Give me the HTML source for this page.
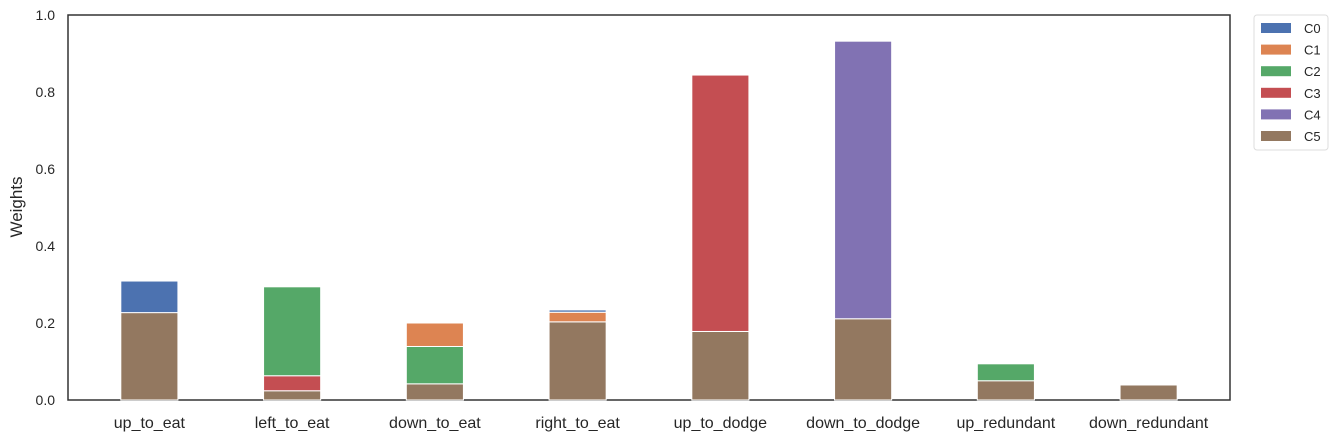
<!DOCTYPE html>
<html><head><meta charset="utf-8"><style>
body{margin:0;background:#fff;}
svg text{font-family:"Liberation Sans","DejaVu Sans",sans-serif;fill:#262626;}
</style></head><body>
<svg id="chart" width="1338" height="442" xmlns="http://www.w3.org/2000/svg">
<rect x="68" y="15" width="1162" height="385" fill="#fff" stroke="#333" stroke-width="1.5"/>
<g id="bars"></g><g id="xt"></g><g id="yt"></g>
<text x="22" y="207" font-size="17" text-anchor="middle" transform="rotate(-90 22 207)">Weights</text>
<g id="legend">
<rect x="1254" y="15" width="74" height="135" rx="3" fill="#fff" stroke="#ddd"/>
</g>
</svg>
<script>
const categories=["up_to_eat","left_to_eat","down_to_eat","right_to_eat","up_to_dodge","down_to_dodge","up_redundant","down_redundant"];
const seriesNames=["C5","C0","C1","C2","C3","C4"];
const C5=[0.227,0.024,0.042,0.203,0.178,0.211,0.050,0.039];
const C3=[0,0.039,0,0,0.666,0,0,0];
const C2=[0,0.231,0.097,0,0,0,0.044,0];
const C1=[0,0,0.061,0.025,0,0,0,0];
const C0=[0.082,0,0,0.006,0,0,0,0];
const C4=[0,0,0,0,0,0.721,0,0];
const yTicks=[0,0.2,0.4,0.6,0.8,1.0];
const yTickLabels=["0.0","0.2","0.4","0.6","0.8","1.0"];
const legendNames=["C0","C1","C2","C3","C4","C5"];
const colors={C0:"#4c72b0",C1:"#dd8452",C2:"#55a868",C3:"#c44e52",C4:"#8172b3",C5:"#937860"};
const stackOrder=[["C5",C5],["C3",C3],["C2",C2],["C1",C1],["C0",C0],["C4",C4]];
const NS="http://www.w3.org/2000/svg";
const x=i=>68+(i+0.57)*142.75;
const y=v=>400-v*385;
const bw=0.4*142.75;
const bars=document.getElementById('bars');
categories.forEach((c,i)=>{
  let base=0;
  stackOrder.forEach(([n,arr])=>{
    const v=arr[i]; if(v<=0)return;
    const r=document.createElementNS(NS,'rect');
    r.setAttribute('x',x(i)-bw/2);r.setAttribute('width',bw);
    r.setAttribute('y',y(base+v));r.setAttribute('height',v*385);
    r.setAttribute('fill',colors[n]);r.setAttribute('stroke','#fff');r.setAttribute('stroke-width','1');
    
    
    bars.appendChild(r);base+=v;
  });
  const t=document.createElementNS(NS,'text');
  t.setAttribute('x',x(i));t.setAttribute('y',428);t.setAttribute('font-size','16');t.setAttribute('text-anchor','middle');
  t.textContent=c;
  
  
  document.getElementById('xt').appendChild(t);
});
yTicks.forEach((v,k)=>{
  const t=document.createElementNS(NS,'text');
  t.setAttribute('x',55);t.setAttribute('y',y(v)+5);t.setAttribute('font-size','14');t.setAttribute('text-anchor','end');
  t.textContent=yTickLabels[k];
  
  
  document.getElementById('yt').appendChild(t);
});
const lg=document.getElementById('legend');
legendNames.forEach((n,k)=>{
  const yy=28+k*21.6;
  const r=document.createElementNS(NS,'rect');
  r.setAttribute('x',1261);r.setAttribute('y',yy-5);r.setAttribute('width',30);r.setAttribute('height',10);r.setAttribute('fill',colors[n]);
  
  
  lg.appendChild(r);
  const t=document.createElementNS(NS,'text');
  t.setAttribute('x',1304);t.setAttribute('y',yy+5);t.setAttribute('font-size','13');
  t.textContent=n;
  
  
  lg.appendChild(t);
});
</script>
</body></html>
